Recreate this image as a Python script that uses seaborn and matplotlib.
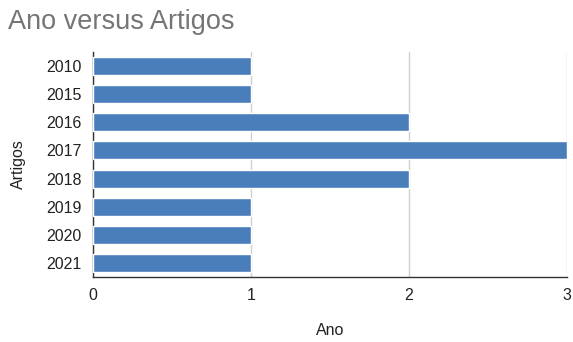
import matplotlib
matplotlib.use("Agg")
import matplotlib.pyplot as plt
import seaborn as sns
import pandas as pd

anos = ["2010", "2015", "2016", "2017", "2018", "2019", "2020", "2021"]
artigos = [1, 1, 2, 3, 2, 1, 1, 1]
x_ticks = [0, 1, 2, 3]

sns.set_theme(style="white")
plt.rcParams["font.family"] = ["Liberation Sans", "DejaVu Sans"]

df = pd.DataFrame({"Ano": anos, "Artigos": artigos})

fig = plt.figure(figsize=(5.73, 3.42), dpi=100)
ax = fig.add_axes([0.1623, 0.190, 0.8272, 0.658])

sns.barplot(data=df, y="Ano", x="Artigos", orient="h", color="#4a7ebb",
            saturation=1, width=0.64, ax=ax, zorder=3)

ax.set_xlim(0, 3)
ax.set_ylim(7.5, -0.5)
ax.set_xticks(x_ticks)
ax.set_xticklabels([str(t) for t in x_ticks])
ax.grid(axis="x", color="#d0d0d0", linewidth=1, zorder=0)
ax.set_axisbelow(True)

for s in ["top", "right"]:
    ax.spines[s].set_visible(False)
for s in ["left", "bottom"]:
    ax.spines[s].set_color("#333333")
    ax.spines[s].set_linewidth(1)

ax.tick_params(axis="both", length=0, labelsize=11.5, colors="#222222")
ax.tick_params(axis="x", pad=8)
ax.tick_params(axis="y", pad=8)

ax.set_xlabel("Ano", fontsize=11.5, color="#222222", labelpad=14)
ax.set_ylabel("Artigos", fontsize=11.5, color="#222222", labelpad=15)

fig.text(0.014, 0.935, "Ano versus Artigos", fontsize=19.5, color="#757575",
         ha="left", va="center")

fig.savefig("out.png", dpi=100, facecolor="white")
